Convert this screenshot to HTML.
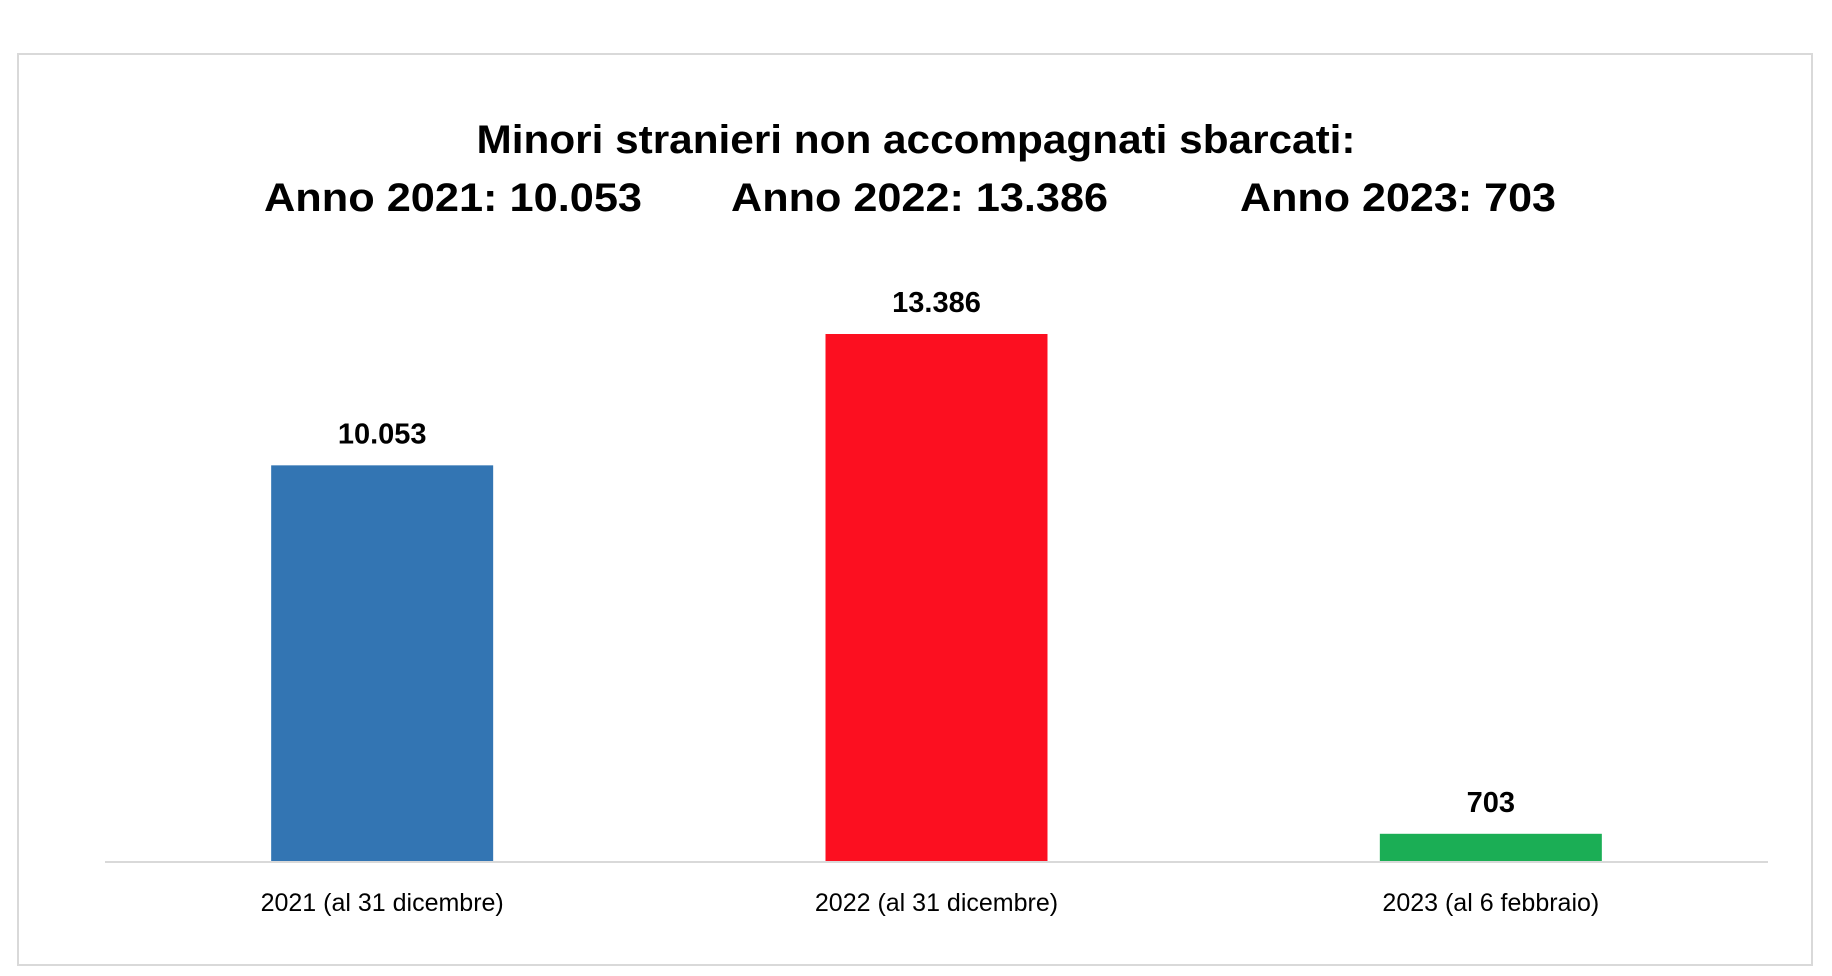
<!DOCTYPE html>
<html><head><meta charset="utf-8"><style>
html,body{margin:0;padding:0;background:#fff;}
svg{display:block;font-family:"Liberation Sans",sans-serif;}
</style></head><body>
<svg id="chart" width="1832" height="976">
<rect x="18" y="54" width="1794" height="911" fill="#fff" stroke="#d9d9d9" stroke-width="2"/>
<text x="916" y="153" text-anchor="middle" font-weight="bold" font-size="40" textLength="879" lengthAdjust="spacingAndGlyphs">Minori stranieri non accompagnati sbarcati:</text>
<text x="264" y="211" font-weight="bold" font-size="40" textLength="378" lengthAdjust="spacingAndGlyphs">Anno 2021: 10.053</text>
<text x="731" y="211" font-weight="bold" font-size="40" textLength="377" lengthAdjust="spacingAndGlyphs">Anno 2022: 13.386</text>
<text x="1240" y="211" font-weight="bold" font-size="40" textLength="316" lengthAdjust="spacingAndGlyphs">Anno 2023: 703</text>
<g id="bars"></g>
<line x1="105" y1="862" x2="1768" y2="862" stroke="#d9d9d9" stroke-width="2"/>
</svg>
<script>
const categories = ["2021 (al 31 dicembre)", "2022 (al 31 dicembre)", "2023 (al 6 febbraio)"];
const values = [10053, 13386, 703];
const valueLabels = ["10.053", "13.386", "703"];
const colors = ["#3375B3", "#FC0F20", "#1BAE55"];
const plotLeft = 105, plotRight = 1768, baseY = 861.5, yMax = 14000, plotTop = 309.8;
function y(v){ return baseY - v / yMax * (baseY - plotTop); }
const band = (plotRight - plotLeft) / categories.length;
function xc(i){ return plotLeft + band * (i + 0.5); }
const barW = 222;
const g = document.getElementById('bars');
const NS = "http://www.w3.org/2000/svg";
categories.forEach((c, i) => {
  const r = document.createElementNS(NS, 'rect');
  r.setAttribute('x', xc(i) - barW / 2);
  r.setAttribute('y', y(values[i]));
  r.setAttribute('width', barW);
  r.setAttribute('height', baseY - y(values[i]));
  r.setAttribute('fill', colors[i]);
  
  
  g.appendChild(r);
  const t = document.createElementNS(NS, 'text');
  t.setAttribute('x', xc(i));
  t.setAttribute('y', y(values[i]) - 22);
  t.setAttribute('text-anchor', 'middle');
  t.setAttribute('font-weight', 'bold');
  t.setAttribute('font-size', '29');
  t.textContent = valueLabels[i];
  
  
  g.appendChild(t);
  const l = document.createElementNS(NS, 'text');
  l.setAttribute('x', xc(i));
  l.setAttribute('y', 911);
  l.setAttribute('text-anchor', 'middle');
  l.setAttribute('font-size', '25');
  l.textContent = c;
  
  
  g.appendChild(l);
});
</script>
</body></html>
